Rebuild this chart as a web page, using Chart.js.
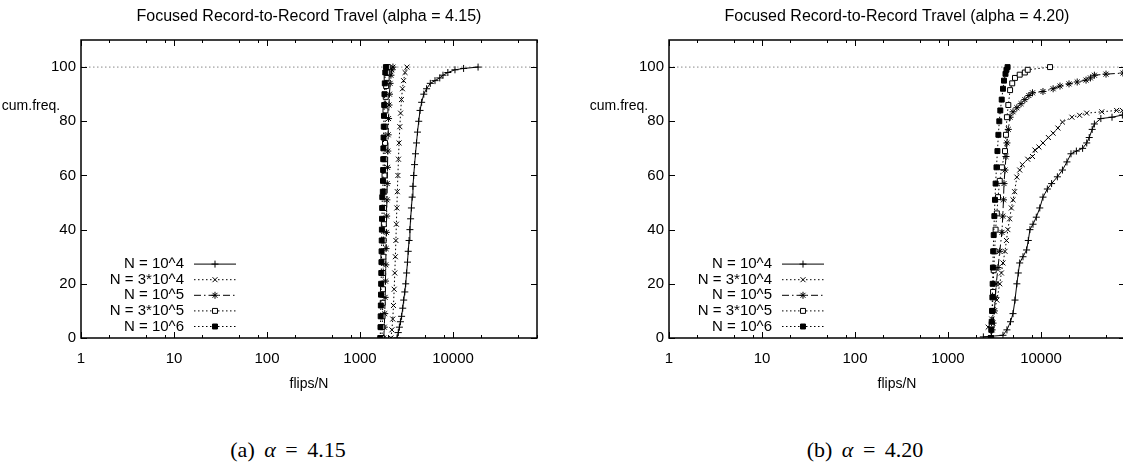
<!DOCTYPE html>
<html lang="en">
<head>
<meta charset="UTF-8">
<title>Focused Record-to-Record Travel</title>
<script src="https://cdn.jsdelivr.net/npm/chart.js"></script>
<style>
    body {
        margin: 0;
        background: #fff;
        width: 1123px;
        height: 466px;
        overflow: hidden;
        position: relative;
    }
    .panel {
        position: absolute;
        top: 0;
        width: 588px;
        height: 400px;
    }
    #panelA { left: 0; }
    #panelB { left: 588px; }
    .caption {
        position: absolute;
        top: 436px;
        width: 200px;
        margin-left: -100px;
        text-align: center;
        font-family: 'Liberation Serif', serif;
        font-size: 22px;
        word-spacing: 4px;
        line-height: 28px;
    }
</style>
</head>
<body>
<div class="panel" id="panelA"><canvas id="chartA"></canvas></div>
<div class="panel" id="panelB"><canvas id="chartB"></canvas></div>
<div class="caption" style="left:288px">(a) <i>α</i> = 4.15</div>
<div class="caption" style="left:865px">(b) <i>α</i> = 4.20</div>

<script>
// ---- data: [flips/N, cum.freq. %] ----
const seriesLabels = ['N = 10^4', 'N = 3*10^4', 'N = 10^5', 'N = 3*10^5', 'N = 10^6'];
const xTickValues = [1, 10, 100, 1000, 10000];
const xMinorSteps = [2, 5, 8];
const yTickValues = [0, 20, 40, 60, 80, 100];
const xRange = [1, 80000];
const yRange = [0, 110];
const refLevel = 100;

// alpha = 4.15
const a415_n1e4 = [[2500, 0], [2580, 2], [2650, 4], [2720, 6], [2800, 8], [2880, 11], [2950, 14], [3030, 17],
    [3100, 20], [3170, 24], [3240, 28], [3300, 32], [3370, 36], [3440, 40], [3500, 44], [3570, 48],
    [3640, 52], [3710, 56], [3780, 60], [3860, 64], [3950, 68], [4050, 72], [4150, 76], [4280, 80],
    [4420, 84], [4600, 87], [4850, 90], [5200, 92], [5700, 94], [6400, 95], [7200, 96], [7800, 97],
    [8800, 98], [10500, 99], [13000, 99.5], [18600, 100]];
const a415_n3e4 = [[2150, 0], [2200, 3], [2250, 7], [2290, 12], [2330, 18], [2365, 24], [2400, 30],
    [2430, 36], [2460, 42], [2490, 48], [2520, 54], [2555, 60], [2590, 66], [2630, 72], [2680, 78],
    [2730, 83], [2790, 88], [2860, 92], [2940, 95], [3050, 98], [3200, 100]];
const a415_n1e5 = [[1800, 0], [1825, 4], [1845, 9], [1862, 15], [1878, 21], [1893, 27], [1907, 33],
    [1920, 39], [1933, 45], [1946, 51], [1960, 57], [1975, 63], [1990, 69], [2008, 75], [2028, 81],
    [2050, 86], [2075, 90], [2105, 94], [2150, 97], [2200, 99], [2260, 100]];
const a415_n3e5 = [[1720, 0], [1735, 4], [1745, 8], [1755, 13], [1765, 18], [1775, 24], [1785, 30],
    [1795, 36], [1805, 42], [1815, 48], [1825, 54], [1835, 60], [1845, 66], [1855, 72], [1865, 78],
    [1878, 84], [1892, 89], [1910, 93], [1935, 96], [1960, 98], [1990, 100]];
const a415_n1e6 = [[1650, 0], [1660, 4], [1668, 8], [1675, 12], [1682, 16], [1688, 20], [1694, 24],
    [1700, 28], [1706, 32], [1712, 36], [1718, 40], [1724, 44], [1730, 48], [1736, 52], [1760, 54],
    [1766, 58], [1772, 62], [1778, 66], [1784, 70], [1792, 74], [1800, 78], [1810, 82], [1820, 86],
    [1832, 90], [1848, 94], [1870, 98], [1900, 100]];

// alpha = 4.20
const a420_n1e4 = [[2400, 0.4], [3900, 1], [4300, 3], [4700, 6], [5000, 9], [5250, 14], [5500, 20],
    [5700, 24], [5900, 27.7], [6400, 30], [7000, 32.5], [7300, 36], [7600, 40], [8200, 42], [8900, 44.6],
    [9700, 48], [10500, 52], [11700, 55], [13000, 57], [15000, 59.5], [17000, 62], [19000, 65],
    [21000, 68], [24000, 69], [28000, 70], [31000, 72], [33000, 74], [35500, 77], [37500, 79],
    [44000, 81], [58000, 81.5], [75000, 82.3]];
const a420_n3e4 = [[2700, 4], [2950, 7], [3150, 10], [3350, 14], [3600, 20], [3750, 24], [3900, 27.7],
    [4100, 32], [4250, 36], [4400, 40], [4600, 44], [4800, 48], [5000, 51], [5200, 54], [5500, 59.4],
    [5900, 62], [6300, 64], [7200, 66], [8100, 67], [8600, 69.4], [9500, 70.5], [10500, 72],
    [12000, 74], [13500, 75.6], [15200, 77.5], [17000, 79.7], [21500, 81.5], [26000, 82.2],
    [31000, 83], [45000, 83.5], [65000, 84], [75000, 84]];
const a420_n1e5 = [[2900, 0], [2980, 3], [3050, 5.5], [3150, 10], [3230, 15], [3300, 20], [3450, 26],
    [3600, 32], [3800, 39], [3880, 45], [3950, 51], [4000, 57], [4100, 62], [4200, 67], [4300, 72],
    [4450, 77], [4650, 81.5], [5000, 83.5], [5500, 85], [6100, 86.5], [6700, 88], [7400, 89.5],
    [8100, 90.5], [10500, 91], [13500, 92], [16000, 93], [20000, 93.8], [24500, 94.5], [30500, 95.2],
    [34000, 96], [37500, 97], [50000, 97.4], [76000, 97.8]];
const a420_n3e5 = [[2900, 0], [2950, 5], [3000, 10], [3050, 17], [3100, 25], [3170, 32], [3250, 40],
    [3350, 46], [3450, 52], [3600, 58], [3800, 63], [4100, 69], [4200, 75], [4300, 81.5], [4450, 86],
    [4650, 91.5], [4900, 94], [5250, 96], [5900, 97.2], [6700, 98], [7200, 99], [12500, 100]];
const a420_n1e6 = [[2880, 0], [2920, 3], [2950, 6], [2980, 10], [3000, 15], [3020, 20], [3040, 26],
    [3060, 32], [3100, 38], [3150, 45], [3200, 51], [3250, 57], [3320, 63], [3400, 69], [3480, 75],
    [3560, 80], [3650, 84], [3780, 88], [3900, 92], [4000, 95], [4150, 97.5], [4250, 99], [4370, 100]];

// ---- styles ----
const seriesStyles = [
    { dash: [], pointStyle: 'cross', fill: '#000' },
    { dash: [1.5, 2.5], pointStyle: 'crossRot', fill: '#000' },
    { dash: [7, 3, 1.5, 3], pointStyle: 'star', fill: '#000' },
    { dash: [1.5, 2.5], pointStyle: 'rect', fill: '#fff' },
    { dash: [1.5, 2.5], pointStyle: 'rect', fill: '#000' }
];
const FONT = "'Liberation Sans', Arial, sans-serif";

function makeDatasets(seriesList) {
    const sets = seriesList.map((pts, i) => ({
        label: seriesLabels[i],
        data: pts.map(p => ({ x: p[0], y: p[1] })),
        showLine: true,
        borderColor: '#000',
        borderWidth: 1,
        borderDash: seriesStyles[i].dash,
        pointStyle: seriesStyles[i].pointStyle,
        pointRadius: 3.5,
        pointBorderWidth: 1,
        pointBorderColor: '#000',
        pointBackgroundColor: seriesStyles[i].fill,
        order: 5 - i
    }));
    sets.push({
        label: 'ref',
        data: [{ x: xRange[0], y: refLevel }, { x: xRange[1], y: refLevel }],
        showLine: true,
        borderColor: '#888',
        borderWidth: 1,
        borderDash: [1.5, 2.5],
        pointRadius: 0,
        order: 10
    });
    return sets;
}

// frame, inward ticks (gnuplot style), titles and legend
const gnuplotLook = {
    id: 'gnuplotLook',
    afterDraw(chart, args, opts) {
        const { ctx, chartArea: a, scales: { x, y } } = chart;
        ctx.save();
        ctx.strokeStyle = '#000';
        ctx.setLineDash([]);
        ctx.lineWidth = 1;
        ctx.beginPath();
        for (let d = 1; d <= xRange[1]; d *= 10) {
            [1].concat(xMinorSteps).forEach(m => {
                const v = d * m;
                if (v > xRange[1]) return;
                const px = Math.round(x.getPixelForValue(v)) + 0.5;
                const len = m === 1 ? 6 : 3;
                ctx.moveTo(px, a.bottom); ctx.lineTo(px, a.bottom - len);
                ctx.moveTo(px, a.top); ctx.lineTo(px, a.top + len);
            });
        }
        yTickValues.forEach(v => {
            const py = Math.round(y.getPixelForValue(v)) + 0.5;
            ctx.moveTo(a.left, py); ctx.lineTo(a.left + 6, py);
            ctx.moveTo(a.right, py); ctx.lineTo(a.right - 6, py);
        });
        ctx.stroke();
        ctx.lineWidth = 1.5;
        ctx.strokeRect(a.left, a.top, a.right - a.left, a.bottom - a.top);

        // texts
        ctx.fillStyle = '#000';
        ctx.textAlign = 'center';
        ctx.textBaseline = 'middle';
        ctx.font = '16px ' + FONT;
        ctx.fillText(opts.title, (a.left + a.right) / 2, 17);
        ctx.font = '14px ' + FONT;
        ctx.fillText('flips/N', (a.left + a.right) / 2, 384);
        ctx.fillText('cum.freq.', 31, 106);

        // legend, bottom left inside the frame
        ctx.font = '15px ' + FONT;
        const sets = chart.data.datasets.slice(0, 5);
        sets.forEach((ds, i) => {
            const ry = a.bottom - 11.5 - (4 - i) * 15.6;
            ctx.textAlign = 'right';
            ctx.fillText(ds.label, a.left + 103, ry);
            ctx.beginPath();
            ctx.setLineDash(ds.borderDash);
            ctx.lineWidth = 1;
            ctx.moveTo(a.left + 113, ry);
            ctx.lineTo(a.left + 155, ry);
            ctx.stroke();
            ctx.setLineDash([]);
            ctx.fillStyle = ds.pointBackgroundColor;
            Chart.helpers.drawPoint(ctx, {
                pointStyle: ds.pointStyle, radius: 3.5, borderWidth: 1, rotation: 0
            }, a.left + 134, ry);
            ctx.fillStyle = '#000';
        });
        ctx.restore();
    }
};

function makeChart(canvasId, seriesList, title) {
    return new Chart(document.getElementById(canvasId), {
        type: 'scatter',
        data: { datasets: makeDatasets(seriesList) },
        options: {
            responsive: true,
            maintainAspectRatio: false,
            animation: false,
            layout: { padding: { top: 40, right: 51, left: 0, bottom: 0 } },
            plugins: {
                legend: { display: false },
                tooltip: { enabled: false },
                gnuplotLook: { title: title }
            },
            scales: {
                x: {
                    type: 'logarithmic',
                    min: xRange[0],
                    max: xRange[1],
                    grid: { display: false, drawTicks: false },
                    border: { display: false },
                    afterBuildTicks: s => { s.ticks = xTickValues.map(v => ({ value: v })); },
                    afterFit: s => { s.height = 62; },
                    ticks: {
                        autoSkip: false,
                        maxRotation: 0,
                        padding: 12,
                        color: '#000',
                        font: { family: FONT, size: 15 },
                        callback: v => String(v)
                    }
                },
                y: {
                    min: yRange[0],
                    max: yRange[1],
                    grid: { display: false, drawTicks: false },
                    border: { display: false },
                    afterBuildTicks: s => { s.ticks = yTickValues.map(v => ({ value: v })); },
                    afterFit: s => { s.width = 81; },
                    ticks: {
                        padding: 5,
                        color: '#000',
                        font: { family: FONT, size: 15 }
                    }
                }
            }
        },
        plugins: [gnuplotLook]
    });
}

makeChart('chartA', [a415_n1e4, a415_n3e4, a415_n1e5, a415_n3e5, a415_n1e6],
    'Focused Record-to-Record Travel (alpha = 4.15)');
makeChart('chartB', [a420_n1e4, a420_n3e4, a420_n1e5, a420_n3e5, a420_n1e6],
    'Focused Record-to-Record Travel (alpha = 4.20)');
</script>
</body>
</html>
